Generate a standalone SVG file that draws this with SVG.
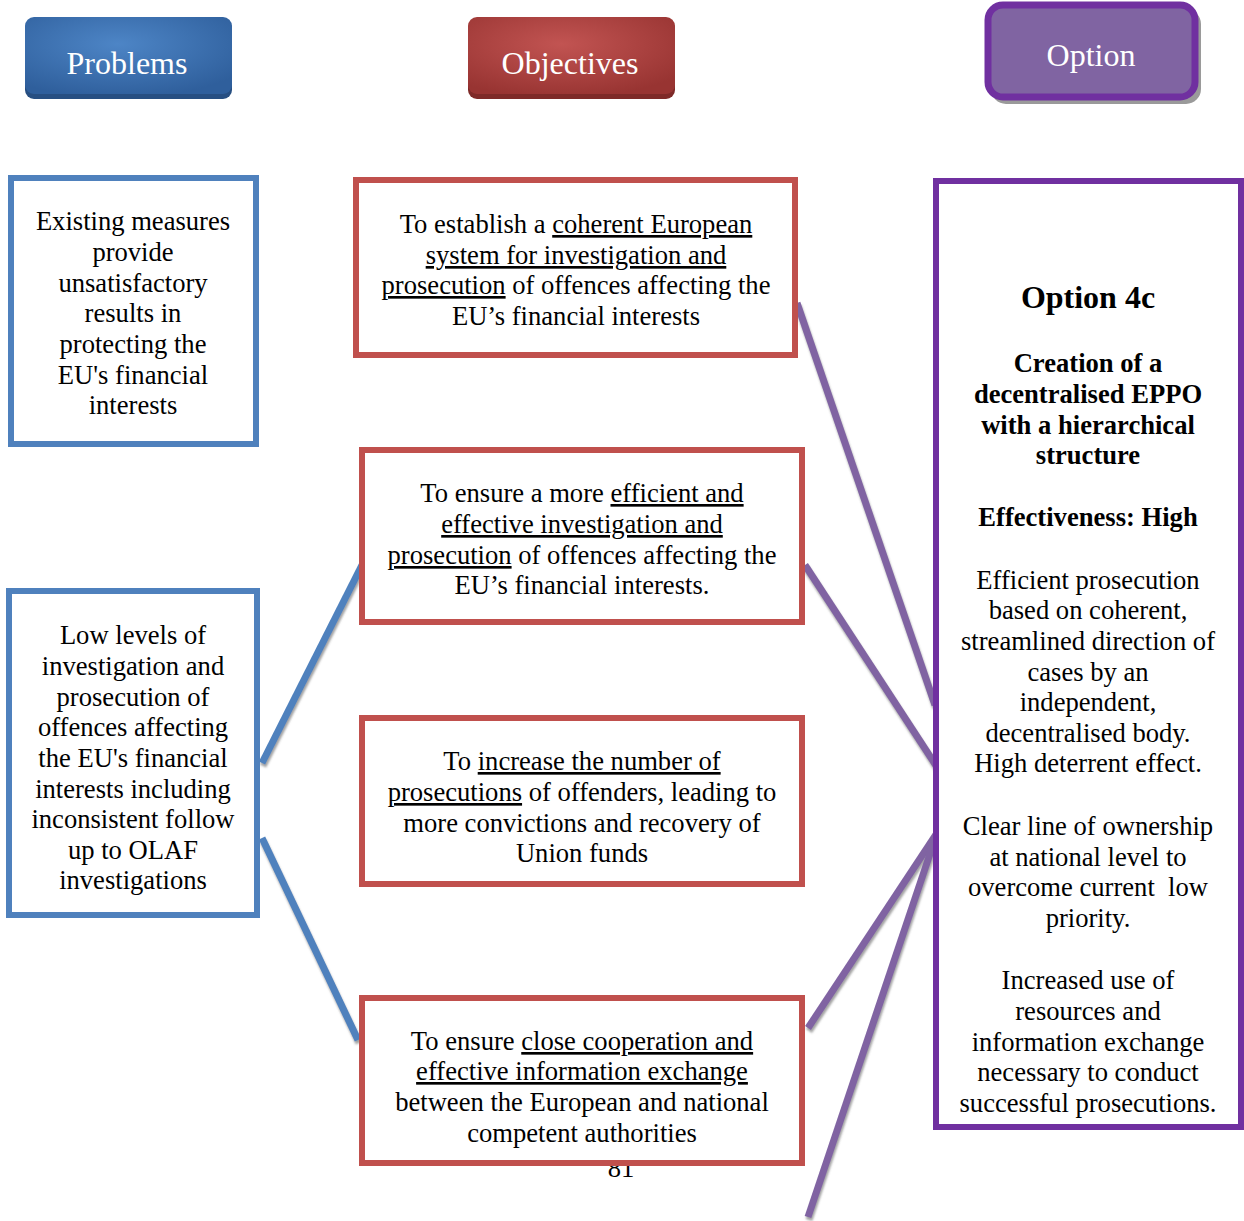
<svg xmlns="http://www.w3.org/2000/svg" width="1244" height="1221" viewBox="0 0 1244 1221">
<defs>
<radialGradient id="gBlue" cx="0.45" cy="0.35" r="0.7">
<stop offset="0" stop-color="#4d85c6"/><stop offset="1" stop-color="#2f5f9c"/>
</radialGradient>
<radialGradient id="gRed" cx="0.45" cy="0.35" r="0.7">
<stop offset="0" stop-color="#c25452"/><stop offset="1" stop-color="#983432"/>
</radialGradient>
<filter id="sh" x="-20%" y="-20%" width="140%" height="140%">
<feDropShadow dx="1" dy="3" stdDeviation="1" flood-color="#555" flood-opacity="0.55"/>
</filter>
<style>
text{font-family:"Liberation Serif","Times New Roman",serif;fill:#000;}
.t{font-size:26.6px;text-anchor:middle;}
.b{font-weight:bold;}
.u{text-decoration:underline;}
.hd{font-size:32px;fill:#fff;text-anchor:middle;}
.pb{fill:#fff;stroke:#4f81bd;stroke-width:6;}
.ob{fill:#fff;stroke:#c0504d;stroke-width:6;}
.op{fill:#fff;stroke:#7030a0;stroke-width:6;}
.cb{stroke:#4f81bd;stroke-width:7;fill:none;filter:url(#sh);}
.cp{stroke:#8064a2;stroke-width:7;fill:none;filter:url(#sh);}
</style>
</defs>
<rect width="1244" height="1221" fill="#fff"/>

<g id="hdr-problems">
<rect x="25" y="20" width="207" height="79" rx="9" fill="#274f82"/>
<rect x="25" y="17" width="207" height="77" rx="9" fill="url(#gBlue)"/>
<text class="hd" x="127" y="74">Problems</text>
</g>
<g id="hdr-objectives">
<rect x="468" y="20" width="207" height="79" rx="9" fill="#7e2a28"/>
<rect x="468" y="17" width="207" height="77" rx="9" fill="url(#gRed)"/>
<text class="hd" x="570" y="74">Objectives</text>
</g>
<g id="hdr-option">
<rect x="991" y="9" width="210" height="95" rx="15" fill="#9a9a9a"/>
<rect x="988" y="5" width="207" height="92" rx="15" fill="#8064a2" stroke="#7030a0" stroke-width="7"/>
<text class="hd" x="1091" y="66">Option</text>
</g>

<text class="t" x="621" y="1177">81</text>

<g id="connectors">
<line class="cb" x1="259" y1="305" x2="356" y2="305"/>
<line class="cb" x1="262" y1="763" x2="362" y2="565"/>
<line class="cb" x1="260" y1="833" x2="358" y2="833"/>
<line class="cb" x1="262" y1="838" x2="358" y2="1040"/>
<line class="cp" x1="797" y1="303" x2="935" y2="705"/>
<line class="cp" x1="805" y1="565" x2="937" y2="767"/>
<line class="cp" x1="805" y1="833" x2="937" y2="833"/>
<line class="cp" x1="937" y1="833" x2="808" y2="1028"/>
<line class="cp" x1="937" y1="833" x2="808" y2="1217"/>
</g>

<g id="problem1">
<rect class="pb" x="11" y="178" width="245" height="266"/>
<text class="t"><tspan x="133" y="230">Existing measures</tspan><tspan x="133" y="261">provide</tspan><tspan x="133" y="292">unsatisfactory</tspan><tspan x="133" y="322">results in</tspan><tspan x="133" y="353">protecting the</tspan><tspan x="133" y="384">EU's financial</tspan><tspan x="133" y="414">interests</tspan></text>
</g>

<g id="problem2">
<rect class="pb" x="9" y="591" width="248" height="324"/>
<text class="t"><tspan x="133" y="644">Low levels of</tspan><tspan x="133" y="675">investigation and</tspan><tspan x="133" y="706">prosecution of</tspan><tspan x="133" y="736">offences affecting</tspan><tspan x="133" y="767">the EU's financial</tspan><tspan x="133" y="798">interests including</tspan><tspan x="133" y="828">inconsistent follow</tspan><tspan x="133" y="859">up to OLAF</tspan><tspan x="133" y="889">investigations</tspan></text>
</g>

<g id="objective1">
<rect class="ob" x="356" y="180" width="439" height="175"/>
<text class="t" x="576" y="233">To establish a <tspan class="u">coherent European</tspan></text>
<text class="t" x="576" y="264"><tspan class="u">system for investigation and</tspan></text>
<text class="t" x="576" y="294"><tspan class="u">prosecution</tspan> of offences affecting the</text>
<text class="t" x="576" y="325">EU’s financial interests</text>
</g>

<g id="objective2">
<rect class="ob" x="362" y="450" width="440" height="172"/>
<text class="t" x="582" y="502">To ensure a more <tspan class="u">efficient and</tspan></text>
<text class="t" x="582" y="533"><tspan class="u">effective investigation and</tspan></text>
<text class="t" x="582" y="564"><tspan class="u">prosecution</tspan> of offences affecting the</text>
<text class="t" x="582" y="594">EU’s financial interests.</text>
</g>

<g id="objective3">
<rect class="ob" x="362" y="718" width="440" height="166"/>
<text class="t" x="582" y="770">To <tspan class="u">increase the number of</tspan></text>
<text class="t" x="582" y="801"><tspan class="u">prosecutions</tspan> of offenders, leading to</text>
<text class="t" x="582" y="832">more convictions and recovery of</text>
<text class="t" x="582" y="862">Union funds</text>
</g>

<g id="objective4">
<rect class="ob" x="362" y="998" width="440" height="165"/>
<text class="t" x="582" y="1050">To ensure <tspan class="u">close cooperation and</tspan></text>
<text class="t" x="582" y="1080"><tspan class="u">effective information exchange</tspan></text>
<text class="t" x="582" y="1111">between the European and national</text>
<text class="t" x="582" y="1142">competent authorities</text>
</g>

<g id="option">
<rect class="op" x="936" y="181" width="305" height="946"/>
<text class="t b" x="1088" y="308" style="font-size:32px">Option 4c</text>
<text class="t b"><tspan x="1088" y="372">Creation of a</tspan><tspan x="1088" y="403">decentralised EPPO</tspan><tspan x="1088" y="434">with a hierarchical</tspan><tspan x="1088" y="464">structure</tspan><tspan x="1088" y="526">Effectiveness: High</tspan></text>
<text class="t"><tspan x="1088" y="589">Efficient prosecution</tspan><tspan x="1088" y="619">based on coherent,</tspan><tspan x="1088" y="650">streamlined direction of</tspan><tspan x="1088" y="681">cases by an</tspan><tspan x="1088" y="711">independent,</tspan><tspan x="1088" y="742">decentralised body.</tspan><tspan x="1088" y="772">High deterrent effect.</tspan><tspan x="1088" y="835">Clear line of ownership</tspan><tspan x="1088" y="866">at national level to</tspan><tspan x="1088" y="896" xml:space="preserve">overcome current  low</tspan><tspan x="1088" y="927">priority.</tspan><tspan x="1088" y="989">Increased use of</tspan><tspan x="1088" y="1020">resources and</tspan><tspan x="1088" y="1051">information exchange</tspan><tspan x="1088" y="1081">necessary to conduct</tspan><tspan x="1088" y="1112">successful prosecutions.</tspan></text>
</g>
</svg>
